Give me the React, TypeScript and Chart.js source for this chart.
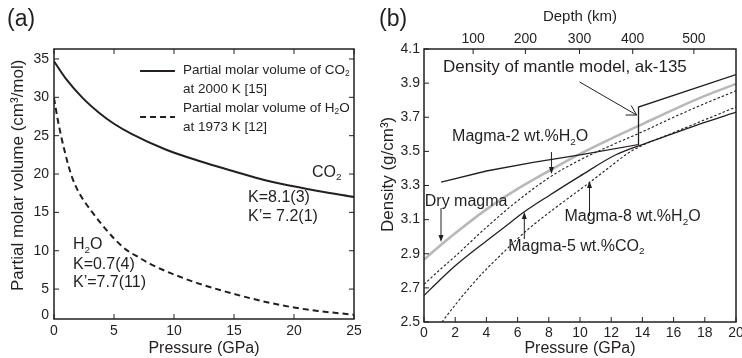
import React, { useEffect, useRef } from 'react';
import { Chart, registerables } from 'chart.js';
Chart.register(...registerables);

const FONT = '"Liberation Sans", Arial, Helvetica, sans-serif';
const INK = '#231f20';
const GRAY = '#b8b8b8';

// ---------- Panel (a) data ----------
const pressureCO2 = [0, 1, 2.4, 3.75, 5, 6.5, 9.3, 12.1, 14.9, 17.6, 19, 22, 25];
const volumeCO2 = [34.7, 32.4, 29.9, 28.0, 26.55, 25.2, 23.2, 21.7, 20.4, 19.2, 18.7, 17.8, 17.0];
const pressureH2O = [0, 0.3, 0.6, 0.9, 1.2, 1.5, 2, 2.5, 3.2, 4, 5, 6, 7, 8, 9, 10, 12, 14, 16, 18, 20, 22, 25];
const volumeH2O = [29.9, 27.2, 24.9, 22.9, 21.1, 19.6, 17.8, 16.5, 15.0, 13.4, 11.6, 10.15, 9.2, 8.3, 7.55, 6.9, 5.75, 4.8, 3.95, 3.2, 2.6, 2.15, 1.65];
const pressureTicksA = [0, 5, 10, 15, 20, 25];
const volumeTicksA = [5, 10, 15, 20, 25, 30, 35];

// ---------- Panel (b) data ----------
const mantleP = [1.1, 4, 7, 10, 13.75, 13.75, 20];
const mantleRho = [3.32, 3.385, 3.435, 3.48, 3.54, 3.76, 3.95];
const dryP = [0, 1, 2, 4, 6, 8, 10, 12, 14, 16, 18, 20];
const dryRho = [2.865, 2.945, 3.02, 3.16, 3.28, 3.385, 3.485, 3.575, 3.66, 3.745, 3.825, 3.895];
const h2o2P = [0, 1, 2, 4, 6, 8, 10, 12, 14, 16, 18, 20];
const h2o2Rho = [2.72, 2.805, 2.885, 3.055, 3.21, 3.345, 3.45, 3.535, 3.615, 3.7, 3.78, 3.855];
const co2P = [0, 1, 2, 3, 4, 5, 6.5, 8, 10, 12.3, 14, 16, 18, 20];
const co2Rho = [2.655, 2.745, 2.83, 2.905, 2.975, 3.045, 3.15, 3.24, 3.355, 3.48, 3.54, 3.605, 3.67, 3.73];
const h2o8P = [1.15, 2, 3, 4, 5, 6.5, 8, 10.5, 12, 13, 14, 16, 18, 20];
const h2o8Rho = [2.5, 2.6, 2.71, 2.81, 2.9, 3.03, 3.14, 3.31, 3.415, 3.485, 3.535, 3.61, 3.685, 3.76];
const pressureTicksB = [0, 2, 4, 6, 8, 10, 12, 14, 16, 18, 20];
const densityTicksB = [2.5, 2.7, 2.9, 3.1, 3.3, 3.5, 3.7, 3.9, 4.1];
const depthKm = [100, 200, 300, 400, 500];
const depthPressure = [3.15, 6.5, 9.97, 13.38, 17.3];

const toXY = (xs: number[], ys: number[]) => xs.map((x, i) => ({ x, y: ys[i] }));

type Part = [string, string?];
function drawRich(ctx: CanvasRenderingContext2D, x: number, y: number, parts: Part[], size: number) {
  ctx.textBaseline = 'middle';
  ctx.textAlign = 'left';
  let cx = x;
  for (const [t, kind] of parts) {
    if (kind === 'sub') {
      ctx.font = `${size * 0.62}px ${FONT}`;
      ctx.fillText(t, cx, y + size * 0.3);
    } else {
      ctx.font = `${size}px ${FONT}`;
      ctx.fillText(t, cx, y);
    }
    cx += ctx.measureText(t).width;
  }
}

function drawVTitle(ctx: CanvasRenderingContext2D, text: string, x: number, yBottom: number, size: number) {
  ctx.save();
  ctx.translate(x, yBottom);
  ctx.rotate(-Math.PI / 2);
  ctx.font = `${size}px ${FONT}`;
  ctx.textAlign = 'left';
  ctx.textBaseline = 'middle';
  ctx.fillText(text, 0, 0);
  ctx.restore();
}

function openArrow(ctx: CanvasRenderingContext2D, x1: number, y1: number, x2: number, y2: number, len: number, ang: number) {
  const a = Math.atan2(y2 - y1, x2 - x1);
  ctx.beginPath();
  ctx.moveTo(x1, y1);
  ctx.lineTo(x2, y2);
  ctx.moveTo(x2 - len * Math.cos(a - ang), y2 - len * Math.sin(a - ang));
  ctx.lineTo(x2, y2);
  ctx.lineTo(x2 - len * Math.cos(a + ang), y2 - len * Math.sin(a + ang));
  ctx.stroke();
}

function vArrow(ctx: CanvasRenderingContext2D, x: number, y1: number, y2: number) {
  const dir = y2 > y1 ? 1 : -1;
  ctx.beginPath();
  ctx.moveTo(x, y1);
  ctx.lineTo(x, y2 - dir * 4);
  ctx.stroke();
  ctx.beginPath();
  ctx.moveTo(x, y2);
  ctx.lineTo(x - 2.5, y2 - dir * 7);
  ctx.lineTo(x + 2.5, y2 - dir * 7);
  ctx.closePath();
  ctx.fill();
}

function framePlugin(mirrorTop: boolean, mirrorRight: boolean, topScale?: string) {
  return {
    id: 'frame',
    afterDatasetsDraw(chart: any) {
      const { ctx, chartArea } = chart;
      const { left, right, top, bottom } = chartArea;
      const xs = chart.scales.x, ys = chart.scales.y;
      const L = 5;
      ctx.save();
      ctx.strokeStyle = INK;
      ctx.lineWidth = 1;
      ctx.beginPath();
      for (const t of xs.ticks) {
        const p = xs.getPixelForValue(t.value);
        ctx.moveTo(p, bottom); ctx.lineTo(p, bottom - L);
        if (mirrorTop) { ctx.moveTo(p, top); ctx.lineTo(p, top + L); }
      }
      for (const t of ys.ticks) {
        const p = ys.getPixelForValue(t.value);
        ctx.moveTo(left, p); ctx.lineTo(left + L, p);
        if (mirrorRight) { ctx.moveTo(right, p); ctx.lineTo(right - L, p); }
      }
      if (topScale) {
        const ts = chart.scales[topScale];
        for (const t of ts.ticks) {
          const p = ts.getPixelForValue(t.value);
          ctx.moveTo(p, top); ctx.lineTo(p, top + L);
        }
      }
      ctx.stroke();
      ctx.lineWidth = 1.5;
      ctx.strokeRect(left, top, right - left, bottom - top);
      ctx.restore();
    },
  };
}

const annA = {
  id: 'annA',
  afterDraw(chart: any) {
    const { ctx } = chart;
    const X = (v: number) => chart.scales.x.getPixelForValue(v);
    const Y = (v: number) => chart.scales.y.getPixelForValue(v);
    ctx.save();
    ctx.fillStyle = INK;
    ctx.strokeStyle = INK;
    drawRich(ctx, 7, 20, [['(a)']], 23);
    drawVTitle(ctx, 'Partial molar volume (cm³/mol)', 18, 291, 17);
    ctx.font = `14px ${FONT}`;
    ctx.textAlign = 'right';
    ctx.textBaseline = 'middle';
    ctx.fillText('0', X(0) - 5, Y(1.1) - 4);
    // legend
    ctx.lineWidth = 2;
    ctx.beginPath();
    ctx.moveTo(X(7.17), Y(33.43)); ctx.lineTo(X(10.08), Y(33.43));
    ctx.stroke();
    ctx.setLineDash([6, 4]);
    ctx.beginPath();
    ctx.moveTo(X(7.17), Y(27.44)); ctx.lineTo(X(10.08), Y(27.44));
    ctx.stroke();
    ctx.setLineDash([]);
    drawRich(ctx, X(10.75), Y(33.56), [['Partial molar volume of CO'], ['2', 'sub']], 13.5);
    drawRich(ctx, X(10.75), Y(31.09), [['at 2000 K [15]']], 13.5);
    drawRich(ctx, X(10.75), Y(28.61), [['Partial molar volume of H'], ['2', 'sub'], ['O']], 13.5);
    drawRich(ctx, X(10.75), Y(26.13), [['at 1973 K [12]']], 13.5);
    drawRich(ctx, X(21.5), Y(20.14), [['CO'], ['2', 'sub']], 16);
    drawRich(ctx, X(16.17), Y(16.88), [['K=8.1(3)']], 16);
    drawRich(ctx, X(16.17), Y(14.4), [['K’= 7.2(1)']], 16);
    drawRich(ctx, X(1.58), Y(10.75), [['H'], ['2', 'sub'], ['O']], 16);
    drawRich(ctx, X(1.58), Y(8.14), [['K=0.7(4)']], 16);
    drawRich(ctx, X(1.58), Y(5.79), [['K’=7.7(11)']], 16);
    ctx.restore();
  },
};

const annB = {
  id: 'annB',
  afterDraw(chart: any) {
    const { ctx } = chart;
    const X = (v: number) => chart.scales.x.getPixelForValue(v);
    const Y = (v: number) => chart.scales.y.getPixelForValue(v);
    ctx.save();
    ctx.fillStyle = INK;
    ctx.strokeStyle = INK;
    ctx.lineWidth = 1;
    drawRich(ctx, 8, 20, [['(b)']], 23);
    drawVTitle(ctx, 'Density (g/cm³)', 17, 232, 17);
    drawRich(ctx, X(1.22), Y(3.99), [['Density of mantle model, ak-135']], 17);
    openArrow(ctx, X(9.97), Y(3.907), X(13.63), Y(3.713), 11, Math.PI / 6);
    drawRich(ctx, X(1.8), Y(3.584), [['Magma-2 wt.%H'], ['2', 'sub'], ['O']], 16);
    vArrow(ctx, X(8.17), Y(3.496), Y(3.367));
    drawRich(ctx, X(0.05), Y(3.203), [['Dry magma']], 16);
    vArrow(ctx, X(1.09), Y(3.168), Y(2.969));
    drawRich(ctx, X(9.0), Y(3.115), [['Magma-8 wt.%H'], ['2', 'sub'], ['O']], 16);
    vArrow(ctx, X(10.61), Y(3.121), Y(3.326));
    drawRich(ctx, X(5.4), Y(2.94), [['Magma-5 wt.%CO'], ['2', 'sub']], 16);
    vArrow(ctx, X(6.43), Y(2.986), Y(3.145));
    ctx.restore();
  },
};

const tickFont = { family: FONT, size: 14 };
const titleFont = { family: FONT, size: 16 };

function makeConfigA(): any {
  return {
    type: 'line',
    data: {
      datasets: [
        { data: toXY(pressureCO2, volumeCO2), borderColor: INK, borderWidth: 2, pointRadius: 0, cubicInterpolationMode: 'monotone', fill: false },
        { data: toXY(pressureH2O, volumeH2O), borderColor: INK, borderWidth: 2, borderDash: [6, 4], pointRadius: 0, cubicInterpolationMode: 'monotone', fill: false },
      ],
    },
    options: {
      animation: false,
      responsive: false,
      layout: { padding: { left: 0, top: 49, right: 17, bottom: 0 } },
      plugins: { legend: { display: false }, tooltip: { enabled: false } },
      scales: {
        x: {
          type: 'linear', min: 0, max: 25,
          afterBuildTicks: (s: any) => { s.ticks = pressureTicksA.map((v) => ({ value: v })); },
          afterFit: (s: any) => { s.height = 39; s.paddingLeft = 0; s.paddingRight = 0; },
          grid: { display: false, drawTicks: false }, border: { display: false },
          ticks: { color: INK, font: tickFont, padding: 4, maxRotation: 0, autoSkip: false },
          title: { display: true, text: 'Pressure (GPa)', color: INK, font: titleFont, padding: { top: 0, bottom: 0 } },
        },
        y: {
          type: 'linear', min: 1.1, max: 36.3,
          afterBuildTicks: (s: any) => { s.ticks = volumeTicksA.map((v) => ({ value: v })); },
          afterFit: (s: any) => { s.width = 54; s.paddingTop = 0; s.paddingBottom = 0; },
          grid: { display: false, drawTicks: false }, border: { display: false },
          ticks: { color: INK, font: tickFont, padding: 5, autoSkip: false },
          title: { display: false },
        },
      },
    },
    plugins: [framePlugin(true, true), annA],
  };
}

function makeConfigB(): any {
  return {
    type: 'line',
    data: {
      datasets: [
        { data: toXY(mantleP, mantleRho), borderColor: INK, borderWidth: 1.3, pointRadius: 0, tension: 0, fill: false },
        { data: toXY(dryP, dryRho), borderColor: GRAY, borderWidth: 2.6, pointRadius: 0, cubicInterpolationMode: 'monotone', fill: false },
        { data: toXY(h2o2P, h2o2Rho), borderColor: INK, borderWidth: 1.1, borderDash: [2.5, 2], pointRadius: 0, cubicInterpolationMode: 'monotone', fill: false },
        { data: toXY(co2P, co2Rho), borderColor: INK, borderWidth: 1.3, pointRadius: 0, cubicInterpolationMode: 'monotone', fill: false },
        { data: toXY(h2o8P, h2o8Rho), borderColor: INK, borderWidth: 1.1, borderDash: [2.5, 2], pointRadius: 0, cubicInterpolationMode: 'monotone', fill: false },
      ],
    },
    options: {
      animation: false,
      responsive: false,
      layout: { padding: { left: 0, top: 0, right: 6, bottom: 0 } },
      plugins: { legend: { display: false }, tooltip: { enabled: false } },
      scales: {
        x: {
          type: 'linear', min: 0, max: 20, position: 'bottom',
          afterBuildTicks: (s: any) => { s.ticks = pressureTicksB.map((v) => ({ value: v })); },
          afterFit: (s: any) => { s.height = 36; s.paddingLeft = 0; s.paddingRight = 0; },
          grid: { display: false, drawTicks: false }, border: { display: false },
          ticks: { color: INK, font: tickFont, padding: 3, maxRotation: 0, autoSkip: false },
          title: { display: true, text: 'Pressure (GPa)', color: INK, font: titleFont, padding: { top: 0, bottom: 0 } },
        },
        x2: {
          type: 'linear', min: 0, max: 20, position: 'top',
          afterBuildTicks: (s: any) => { s.ticks = depthPressure.map((v) => ({ value: v })); },
          afterFit: (s: any) => { s.height = 49; s.paddingLeft = 0; s.paddingRight = 0; },
          grid: { display: false, drawTicks: false }, border: { display: false },
          ticks: { color: INK, font: tickFont, padding: 1, maxRotation: 0, autoSkip: false, callback: (_v: any, i: number) => String(depthKm[i]) },
          title: { display: true, text: 'Depth (km)', color: INK, font: { family: FONT, size: 15 }, padding: { top: 8, bottom: 0 } },
        },
        y: {
          type: 'linear', min: 2.5, max: 4.1,
          afterBuildTicks: (s: any) => { s.ticks = densityTicksB.map((v) => ({ value: v })); },
          afterFit: (s: any) => { s.width = 53; s.paddingTop = 0; s.paddingBottom = 0; },
          grid: { display: false, drawTicks: false }, border: { display: false },
          ticks: { color: INK, font: tickFont, padding: 4, autoSkip: false, callback: (v: any) => Number(v).toFixed(1) },
          title: { display: false },
        },
      },
    },
    plugins: [framePlugin(false, false, 'x2'), annB],
  };
}

export default function App() {
  const refA = useRef<HTMLCanvasElement>(null);
  const refB = useRef<HTMLCanvasElement>(null);
  useEffect(() => {
    const a = new Chart(refA.current as HTMLCanvasElement, makeConfigA());
    const b = new Chart(refB.current as HTMLCanvasElement, makeConfigB());
    return () => { a.destroy(); b.destroy(); };
  }, []);
  return (
    <div style={{ position: 'absolute', left: 0, top: 0, width: 742, height: 358, background: '#fff', overflow: 'hidden' }}>
      <canvas ref={refA} width={371} height={358} style={{ position: 'absolute', left: 0, top: 0, width: 371, height: 358 }} />
      <canvas ref={refB} width={371} height={358} style={{ position: 'absolute', left: 371, top: 0, width: 371, height: 358 }} />
    </div>
  );
}
